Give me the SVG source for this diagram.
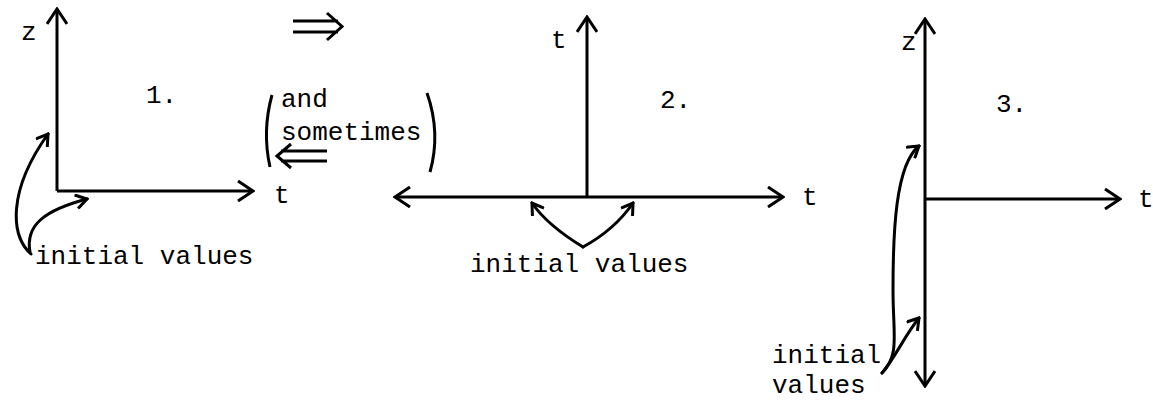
<svg xmlns="http://www.w3.org/2000/svg" width="1153" height="400" viewBox="0 0 1153 400">
<defs>
<marker id="ah" viewBox="0 0 18 22" markerWidth="18" markerHeight="22" refX="16" refY="11" orient="auto-start-reverse" markerUnits="userSpaceOnUse">
<path d="M1,1 L16,11 L1,21" fill="none" stroke="#000" stroke-width="3" stroke-linejoin="miter"/>
</marker>
<marker id="ahs" viewBox="0 0 14 16" markerWidth="14" markerHeight="16" refX="12" refY="8" orient="auto" markerUnits="userSpaceOnUse">
<path d="M1,1 L12,8 L1,15" fill="none" stroke="#000" stroke-width="3"/>
</marker>
</defs>
<style>
text{font-family:"Liberation Mono","DejaVu Sans Mono",monospace;font-size:26px;fill:#000}
.ax{stroke:#000;stroke-width:3;fill:none;marker-end:url(#ah)}
.ax2{stroke:#000;stroke-width:3;fill:none;marker-start:url(#ah);marker-end:url(#ah)}
.cv{stroke:#000;stroke-width:3;fill:none;marker-end:url(#ahs);stroke-linecap:round}
.ln{stroke:#000;stroke-width:3;fill:none}
</style>
<g id="diagram1">
<line class="ax" x1="57" y1="191" x2="57" y2="9"/>
<line class="ax" x1="57" y1="191" x2="253" y2="191"/>
<text x="21" y="40">z</text>
<text x="274" y="203">t</text>
<text x="146" y="103">1.</text>
<text x="35" y="264">initial values</text>
</g>
<g id="transition">
<path class="ln" d="M293,21 H338 M293,32 H338 M327,13 L342,26.5 L327,40"/>
<path class="ln" d="M272,95 Q262,131 270,167"/>
<text x="281" y="107">and</text>
<text x="281" y="140">sometimes</text>
<path class="ln" d="M281,151 H327 M281,161 H327 M291,144 L277,156 L291,168"/>
<path class="ln" d="M427,93 Q441,133 430,172"/>
</g>
<g id="diagram2">
<line class="ax" x1="587" y1="197" x2="587" y2="17"/>
<line class="ax2" x1="395" y1="197" x2="783" y2="197"/>
<text x="551" y="48">t</text>
<text x="660" y="108">2.</text>
<text x="802" y="205">t</text>
<text x="470" y="272">initial values</text>
</g>
<g id="diagram3">
<line class="ax2" x1="925" y1="386" x2="925" y2="19"/>
<line class="ax" x1="925" y1="199" x2="1120" y2="199"/>
<text x="901" y="50">z</text>
<text x="996" y="112">3.</text>
<text x="1138" y="207">t</text>
<text x="772" y="363">initial</text>
<text x="772" y="393">values</text>
</g>
<g id="connectors">
<path class="cv" d="M31,254 C10,235 8,190 48,134"/>
<path class="cv" d="M30,252 C25,225 45,210 87,199"/>
<path class="cv" d="M583,247 C565,236 545,222 532,203"/>
<path class="cv" d="M583,247 C603,236 620,222 633,203"/>
<path class="cv" d="M882,373 C900,355 893,335 893,290 C893,235 895,165 919,146"/>
<path class="cv" d="M882,373 C895,358 905,335 919,318"/>
</g>
</svg>
